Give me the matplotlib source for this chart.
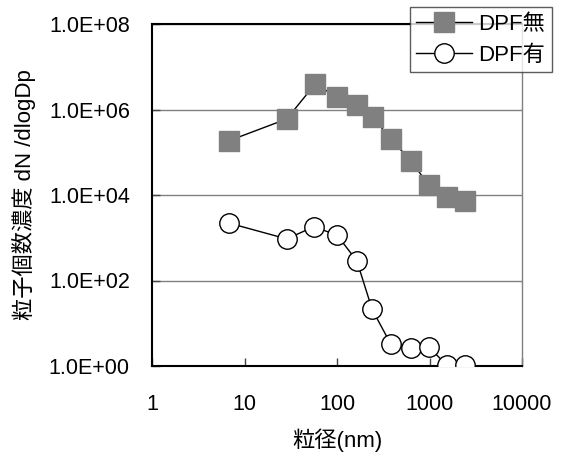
import numpy as np
import matplotlib
matplotlib.use('Agg')
import matplotlib.pyplot as plt
from matplotlib.ticker import FixedLocator, FuncFormatter, NullLocator

plt.rcParams['font.family'] = ['Liberation Sans', 'Noto Sans CJK JP', 'DejaVu Sans']

# particle size (nm) and number concentration dN/dlogDp
size_no_dpf = [6.8, 28.6, 57.8, 100, 163, 243, 384, 627, 980, 1535, 2400]
conc_no_dpf = [1.86e5, 6.0e5, 3.9e6, 2.0e6, 1.3e6, 6.8e5, 2.0e5, 6.4e4, 1.7e4, 9.1e3, 7.2e3]

size_dpf = [6.8, 28.6, 56, 100, 164, 240, 380, 627, 980, 1535, 2400]
conc_dpf = [2.2e3, 940, 1.8e3, 1.16e3, 287, 21, 3.3, 2.6, 2.8, 1.05, 1.05]

label_no_dpf = 'DPF無'
label_dpf = 'DPF有'
x_ticks = [1, 10, 100, 1000, 10000]
y_ticks = [1e0, 1e2, 1e4, 1e6, 1e8]

fig = plt.figure(figsize=(5.62, 4.57), dpi=100)
ax = fig.add_axes([152 / 562, 1 - 366 / 457, 370 / 562, 342 / 457])

ax.plot(size_no_dpf, conc_no_dpf, color='black', lw=1.0, marker='s', ms=14,
        mfc='#808080', mec='#808080', label=label_no_dpf, zorder=3)
ax.plot(size_dpf, conc_dpf, color='black', lw=1.0, marker='o', ms=14,
        mfc='white', mec='black', mew=1.0, label=label_dpf, zorder=3)

ax.set_xscale('log')
ax.set_yscale('log')
ax.set_xlim(1, 10000)
ax.set_ylim(1, 1e8)
ax.xaxis.set_major_locator(FixedLocator(x_ticks))
ax.yaxis.set_major_locator(FixedLocator(y_ticks))
ax.xaxis.set_minor_locator(NullLocator())
ax.yaxis.set_minor_locator(NullLocator())
ax.xaxis.set_major_formatter(FuncFormatter(lambda v, p: f'{v:.0f}'))
ax.yaxis.set_major_formatter(FuncFormatter(lambda v, p: f'{v:.1E}'))

ax.tick_params(axis='both', direction='in', length=6, width=1, colors='#444444',
               labelcolor='black', labelsize=15.5)
ax.tick_params(axis='x', pad=20)
ax.tick_params(axis='y', pad=16)

ax.grid(axis='y', color='#808080', lw=1)
ax.set_axisbelow(True)

for side in ['left', 'bottom', 'top']:
    ax.spines[side].set_color('black')
    ax.spines[side].set_linewidth(1.5)
ax.spines['right'].set_color('#808080')
ax.spines['right'].set_linewidth(1)

ax.set_xlabel('粒径(nm)', fontsize=16)
ax.set_ylabel('粒子個数濃度 dN /dlogDp', fontsize=16)
ax.xaxis.set_label_coords(0.5, (366 - 428) / 342)
ax.yaxis.set_label_coords((36 - 152) / 370, 0.5)

leg = fig.legend(loc='upper right', bbox_to_anchor=(552 / 562, 1 - 7 / 457),
                 fontsize=16, frameon=True, fancybox=False, handlelength=2.5,
                 borderpad=0.3, labelspacing=0.45, handletextpad=0.3,
                 borderaxespad=0)
leg.get_frame().set_edgecolor('#333333')
leg.get_frame().set_linewidth(1)

fig.savefig('out.png', dpi=100)
